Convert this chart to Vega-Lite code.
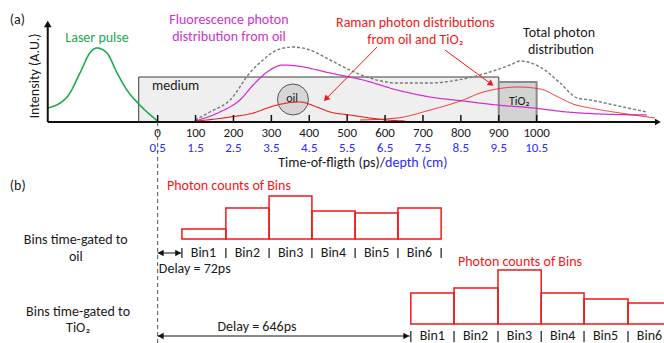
{
  "$schema": "https://vega.github.io/schema/vega-lite/v6.json",
  "width": 664,
  "height": 343,
  "padding": 0,
  "autosize": "none",
  "config": {"view": {"stroke": null}, "font": "Carlito, Lato, sans-serif"},
  "datasets": {
    "boxes": [
      {"name": "medium", "t": -50, "t2": 900, "y": 221, "y2": 266},
      {"name": "TiO2", "t": 900, "t2": 1000, "y": 221, "y2": 261}
    ],
    "oil": [{"t": 357, "y": 243.5}],
    "axes": [
      {"t": -290, "t2": 1322, "y": 221, "y2": 221},
      {"t": -290, "t2": -290, "y": 221, "y2": 318}
    ],
    "ticks": [
      {"t": 0, "y": 221, "y2": 228}, {"t": 100, "y": 221, "y2": 228}, {"t": 200, "y": 221, "y2": 228},
      {"t": 300, "y": 221, "y2": 228}, {"t": 400, "y": 221, "y2": 228}, {"t": 500, "y": 221, "y2": 228},
      {"t": 600, "y": 221, "y2": 228}, {"t": 700, "y": 221, "y2": 228}, {"t": 800, "y": 221, "y2": 228},
      {"t": 900, "y": 221, "y2": 228}, {"t": 1000, "y": 221, "y2": 228}
    ],
    "tickLabels": [
      {"t": 0, "y": 210, "text": "0", "unit": "time"},
      {"t": 100, "y": 210, "text": "100", "unit": "time"},
      {"t": 200, "y": 210, "text": "200", "unit": "time"},
      {"t": 300, "y": 210, "text": "300", "unit": "time"},
      {"t": 400, "y": 210, "text": "400", "unit": "time"},
      {"t": 500, "y": 210, "text": "500", "unit": "time"},
      {"t": 600, "y": 210, "text": "600", "unit": "time"},
      {"t": 700, "y": 210, "text": "700", "unit": "time"},
      {"t": 800, "y": 210, "text": "800", "unit": "time"},
      {"t": 900, "y": 210, "text": "900", "unit": "time"},
      {"t": 1000, "y": 210, "text": "1000", "unit": "time"},
      {"t": 0, "y": 195, "text": "0.5", "unit": "depth"},
      {"t": 100, "y": 195, "text": "1.5", "unit": "depth"},
      {"t": 200, "y": 195, "text": "2.5", "unit": "depth"},
      {"t": 300, "y": 195, "text": "3.5", "unit": "depth"},
      {"t": 400, "y": 195, "text": "4.5", "unit": "depth"},
      {"t": 500, "y": 195, "text": "5.5", "unit": "depth"},
      {"t": 600, "y": 195, "text": "6.5", "unit": "depth"},
      {"t": 700, "y": 195, "text": "7.5", "unit": "depth"},
      {"t": 800, "y": 195, "text": "8.5", "unit": "depth"},
      {"t": 900, "y": 195, "text": "9.5", "unit": "depth"},
      {"t": 1000, "y": 195, "text": "10.5", "unit": "depth"}
    ],
    "curves": [
      {"series": "laser", "t": -290, "y": 235},
      {"series": "laser", "t": -239, "y": 246},
      {"series": "laser", "t": -205, "y": 270},
      {"series": "laser", "t": -179, "y": 290},
      {"series": "laser", "t": -160, "y": 295},
      {"series": "laser", "t": -134, "y": 290},
      {"series": "laser", "t": -107, "y": 270},
      {"series": "laser", "t": -81, "y": 253},
      {"series": "laser", "t": -47, "y": 238},
      {"series": "laser", "t": 0, "y": 222},
      {"series": "total", "t": 99, "y": 223},
      {"series": "total", "t": 138, "y": 231},
      {"series": "total", "t": 191, "y": 243},
      {"series": "total", "t": 243, "y": 270},
      {"series": "total", "t": 278, "y": 283},
      {"series": "total", "t": 315, "y": 293},
      {"series": "total", "t": 357, "y": 296},
      {"series": "total", "t": 402, "y": 293},
      {"series": "total", "t": 455, "y": 283},
      {"series": "total", "t": 507, "y": 273},
      {"series": "total", "t": 560, "y": 265},
      {"series": "total", "t": 632, "y": 260},
      {"series": "total", "t": 719, "y": 260},
      {"series": "total", "t": 806, "y": 264},
      {"series": "total", "t": 877, "y": 271},
      {"series": "total", "t": 930, "y": 278},
      {"series": "total", "t": 956, "y": 282},
      {"series": "total", "t": 1009, "y": 276},
      {"series": "total", "t": 1062, "y": 260},
      {"series": "total", "t": 1107, "y": 245},
      {"series": "total", "t": 1141, "y": 243},
      {"series": "total", "t": 1228, "y": 236},
      {"series": "total", "t": 1291, "y": 231},
      {"series": "fluorescence", "t": 99, "y": 222},
      {"series": "fluorescence", "t": 164, "y": 231},
      {"series": "fluorescence", "t": 217, "y": 243},
      {"series": "fluorescence", "t": 252, "y": 258},
      {"series": "fluorescence", "t": 289, "y": 271},
      {"series": "fluorescence", "t": 331, "y": 278},
      {"series": "fluorescence", "t": 368, "y": 277},
      {"series": "fluorescence", "t": 455, "y": 270},
      {"series": "fluorescence", "t": 542, "y": 263},
      {"series": "fluorescence", "t": 632, "y": 253},
      {"series": "fluorescence", "t": 719, "y": 246},
      {"series": "fluorescence", "t": 806, "y": 242},
      {"series": "fluorescence", "t": 895, "y": 238},
      {"series": "fluorescence", "t": 991, "y": 235},
      {"series": "fluorescence", "t": 1080, "y": 231},
      {"series": "fluorescence", "t": 1167, "y": 229},
      {"series": "fluorescence", "t": 1291, "y": 228},
      {"series": "raman_oil", "t": 78, "y": 221},
      {"series": "raman_oil", "t": 191, "y": 226},
      {"series": "raman_oil", "t": 252, "y": 230},
      {"series": "raman_oil", "t": 297, "y": 236},
      {"series": "raman_oil", "t": 341, "y": 240},
      {"series": "raman_oil", "t": 376, "y": 241},
      {"series": "raman_oil", "t": 420, "y": 236},
      {"series": "raman_oil", "t": 455, "y": 231},
      {"series": "raman_oil", "t": 507, "y": 228},
      {"series": "raman_oil", "t": 560, "y": 225},
      {"series": "raman_oil", "t": 605, "y": 223},
      {"series": "raman_oil", "t": 653, "y": 222},
      {"series": "raman_tio2", "t": 534, "y": 223},
      {"series": "raman_tio2", "t": 632, "y": 225},
      {"series": "raman_tio2", "t": 719, "y": 233},
      {"series": "raman_tio2", "t": 806, "y": 243},
      {"series": "raman_tio2", "t": 851, "y": 250},
      {"series": "raman_tio2", "t": 895, "y": 254},
      {"series": "raman_tio2", "t": 951, "y": 256},
      {"series": "raman_tio2", "t": 1009, "y": 254},
      {"series": "raman_tio2", "t": 1062, "y": 245},
      {"series": "raman_tio2", "t": 1096, "y": 239},
      {"series": "raman_tio2", "t": 1141, "y": 235},
      {"series": "raman_tio2", "t": 1186, "y": 232},
      {"series": "raman_tio2", "t": 1238, "y": 229},
      {"series": "raman_tio2", "t": 1312, "y": 225}
    ],
    "pointers": [
      {"t": 579, "y": 296, "t2": 444, "y2": 244},
      {"t": 758, "y": 293, "t2": 880, "y2": 259}
    ],
    "bins": [
      {"gate": "oil", "bin": "Bin1", "t": 64, "t2": 180, "y": 104, "y2": 114, "ly": 90},
      {"gate": "oil", "bin": "Bin2", "t": 180, "t2": 294, "y": 104, "y2": 135, "ly": 90},
      {"gate": "oil", "bin": "Bin3", "t": 294, "t2": 407, "y": 104, "y2": 147, "ly": 90},
      {"gate": "oil", "bin": "Bin4", "t": 407, "t2": 521, "y": 104, "y2": 132, "ly": 90},
      {"gate": "oil", "bin": "Bin5", "t": 521, "t2": 634, "y": 104, "y2": 130, "ly": 90},
      {"gate": "oil", "bin": "Bin6", "t": 634, "t2": 748, "y": 104, "y2": 135, "ly": 90},
      {"gate": "TiO2", "bin": "Bin1", "t": 668, "t2": 782, "y": 19, "y2": 50, "ly": 7},
      {"gate": "TiO2", "bin": "Bin2", "t": 782, "t2": 898, "y": 19, "y2": 55, "ly": 7},
      {"gate": "TiO2", "bin": "Bin3", "t": 898, "t2": 1012, "y": 19, "y2": 73, "ly": 7},
      {"gate": "TiO2", "bin": "Bin4", "t": 1012, "t2": 1125, "y": 19, "y2": 50, "ly": 7},
      {"gate": "TiO2", "bin": "Bin5", "t": 1125, "t2": 1241, "y": 19, "y2": 44, "ly": 7},
      {"gate": "TiO2", "bin": "Bin6", "t": 1241, "t2": 1354, "y": 19, "y2": 40, "ly": 7}
    ],
    "seps": [
      {"t": 64, "y": 85, "y2": 95}, {"t": 180, "y": 85, "y2": 95}, {"t": 294, "y": 85, "y2": 95},
      {"t": 407, "y": 85, "y2": 95}, {"t": 521, "y": 85, "y2": 95}, {"t": 634, "y": 85, "y2": 95},
      {"t": 748, "y": 85, "y2": 95},
      {"t": 668, "y": 1, "y2": 12}, {"t": 782, "y": 1, "y2": 12}, {"t": 898, "y": 1, "y2": 12},
      {"t": 1012, "y": 1, "y2": 12}, {"t": 1125, "y": 1, "y2": 12}, {"t": 1241, "y": 1, "y2": 12}
    ],
    "delays": [
      {"t": 0, "t2": 62, "y": 90},
      {"t": 0, "t2": 665, "y": 7}
    ],
    "headsLeft": [{"t": 8, "y": 90}, {"t": 8, "y": 7}],
    "headsRight": [{"t": 54, "y": 90}, {"t": 656, "y": 7}, {"t": 1320, "y": 221}],
    "headsUp": [{"t": -290, "y": 319}],
    "labels": [
      {"t": -160, "y": 305, "text": "Laser pulse", "kind": "green"},
      {"t": 188, "y": 323, "text": "Fluorescence photon", "kind": "magenta"},
      {"t": 188, "y": 306, "text": "distribution from oil", "kind": "magenta"},
      {"t": 680, "y": 320, "text": "Raman photon distributions", "kind": "red"},
      {"t": 680, "y": 303, "text": "from oil and TiO₂", "kind": "red"},
      {"t": 1059, "y": 310, "text": "Total photon", "kind": "black"},
      {"t": 1064, "y": 293, "text": "distribution", "kind": "black"},
      {"t": 188, "y": 157, "text": "Photon counts of Bins", "kind": "red"},
      {"t": 956, "y": 81, "text": "Photon counts of Bins", "kind": "red"},
      {"t": -216, "y": 103, "text": "Bins time-gated to", "kind": "black"},
      {"t": -216, "y": 86, "text": "oil", "kind": "black"},
      {"t": -210, "y": 31, "text": "Bins time-gated to", "kind": "black"},
      {"t": -210, "y": 15, "text": "TiO₂", "kind": "black"},
      {"t": 262, "y": 16, "text": "Delay = 646ps", "kind": "black"}
    ],
    "leftLabels": [
      {"t": -390, "y": 323, "text": "(a)"},
      {"t": -390, "y": 157, "text": "(b)"},
      {"t": -15, "y": 257, "text": "medium"},
      {"t": 3, "y": 74, "text": "Delay = 72ps"}
    ],
    "smallLabels": [
      {"t": 355, "y": 245, "text": "oil"},
      {"t": 954, "y": 242, "text": "TiO₂"}
    ],
    "axisTitle": [
      {"t": 600, "y": 180, "black": "Time-of-fligth (ps)/", "blue": "depth (cm)"}
    ],
    "yTitle": [{"t": -324, "y": 267, "text": "Intensity (A.U.)"}],
    "zeroLine": [{"t": 0, "y": 0, "y2": 221}],
    "headOil": [{"t": 444, "y": 244}],
    "headTio2": [{"t": 880, "y": 259}]
  },
  "encoding": {
    "x": {"field": "t", "type": "quantitative", "scale": {"domain": [-416, 1336], "nice": false, "zero": false}, "axis": null},
    "y": {"field": "y", "type": "quantitative", "scale": {"domain": [0, 343], "nice": false, "zero": false}, "axis": null}
  },
  "resolve": {"scale": {"color": "independent", "strokeDash": "independent", "strokeWidth": "independent"}},
  "layer": [
    {
      "data": {"name": "boxes"},
      "transform": [{"filter": "datum.name === 'medium'"}],
      "mark": {"type": "rect", "fill": "#efefef", "stroke": "#3c3c3c", "strokeWidth": 1},
      "encoding": {"x2": {"field": "t2"}, "y2": {"field": "y2"}}
    },
    {
      "data": {"name": "boxes"},
      "transform": [{"filter": "datum.name === 'TiO2'"}],
      "mark": {"type": "rect", "fill": "#d3d3d3", "stroke": "#8a8a8a", "strokeWidth": 2},
      "encoding": {"x2": {"field": "t2"}, "y2": {"field": "y2"}}
    },
    {
      "data": {"name": "oil"},
      "mark": {"type": "point", "shape": "circle", "size": 962, "filled": true, "fill": "#d6d6d6", "stroke": "#555555", "strokeWidth": 1, "opacity": 1}
    },
    {
      "data": {"name": "curves"},
      "mark": {"type": "line", "interpolate": "monotone"},
      "encoding": {
        "color": {"field": "series", "type": "nominal", "legend": null,
          "scale": {"domain": ["laser", "total", "fluorescence", "raman_oil", "raman_tio2"],
                    "range": ["#1aaa50", "#7a7a7a", "#d22fd2", "#f01818", "#f01818"]}},
        "strokeDash": {"field": "series", "type": "nominal", "legend": null,
          "scale": {"domain": ["laser", "total", "fluorescence", "raman_oil", "raman_tio2"],
                    "range": [[1, 0], [3, 2], [1, 0], [1, 0], [1, 0]]}},
        "strokeWidth": {"field": "series", "type": "nominal", "legend": null,
          "scale": {"domain": ["laser", "total", "fluorescence", "raman_oil", "raman_tio2"],
                    "range": [1.6, 0.9, 1.6, 1.6, 1.6]}}
      }
    },
    {
      "data": {"name": "axes"},
      "mark": {"type": "rule", "stroke": "#111111", "strokeWidth": 2},
      "encoding": {"x2": {"field": "t2"}, "y2": {"field": "y2"}}
    },
    {
      "data": {"name": "ticks"},
      "mark": {"type": "rule", "stroke": "#111111", "strokeWidth": 1.5},
      "encoding": {"y2": {"field": "y2"}}
    },
    {
      "data": {"name": "tickLabels"},
      "mark": {"type": "text", "fontSize": 13, "baseline": "middle", "align": "center"},
      "encoding": {
        "text": {"field": "text"},
        "color": {"field": "unit", "type": "nominal", "legend": null,
          "scale": {"domain": ["time", "depth"], "range": ["#1a1a1a", "#2b2bff"]}}
      }
    },
    {
      "data": {"name": "axisTitle"},
      "mark": {"type": "text", "fontSize": 14, "color": "#1a1a1a", "baseline": "middle", "align": "right"},
      "encoding": {"text": {"field": "black"}}
    },
    {
      "data": {"name": "axisTitle"},
      "mark": {"type": "text", "fontSize": 14, "color": "#2b2bff", "baseline": "middle", "align": "left"},
      "encoding": {"text": {"field": "blue"}}
    },
    {
      "data": {"name": "yTitle"},
      "mark": {"type": "text", "fontSize": 14, "color": "#1a1a1a", "baseline": "middle", "align": "center", "angle": 270},
      "encoding": {"text": {"field": "text"}}
    },
    {
      "data": {"name": "headsUp"},
      "mark": {"type": "point", "shape": "triangle-up", "size": 60, "filled": true, "color": "#111111", "opacity": 1}
    },
    {
      "data": {"name": "headsRight"},
      "mark": {"type": "point", "shape": "triangle-right", "size": 45, "filled": true, "color": "#111111", "opacity": 1}
    },
    {
      "data": {"name": "headsLeft"},
      "mark": {"type": "point", "shape": "triangle-left", "size": 45, "filled": true, "color": "#111111", "opacity": 1}
    },
    {
      "data": {"name": "zeroLine"},
      "mark": {"type": "rule", "stroke": "#555555", "strokeWidth": 1, "strokeDash": [4, 3]},
      "encoding": {"y2": {"field": "y2"}}
    },
    {
      "data": {"name": "pointers"},
      "mark": {"type": "rule", "stroke": "#f01818", "strokeWidth": 1},
      "encoding": {"x2": {"field": "t2"}, "y2": {"field": "y2"}}
    },
    {
      "data": {"name": "headOil"},
      "mark": {"type": "point", "shape": "triangle-up", "size": 45, "filled": true, "color": "#f01818", "opacity": 1, "angle": 225}
    },
    {
      "data": {"name": "headTio2"},
      "mark": {"type": "point", "shape": "triangle-up", "size": 45, "filled": true, "color": "#f01818", "opacity": 1, "angle": 126}
    },
    {
      "data": {"name": "bins"},
      "mark": {"type": "rect", "fill": "#ffffff", "fillOpacity": 0, "stroke": "#f01818", "strokeWidth": 1.5},
      "encoding": {"x2": {"field": "t2"}, "y2": {"field": "y2"}}
    },
    {
      "data": {"name": "bins"},
      "mark": {"type": "text", "fontSize": 14, "color": "#1a1a1a", "baseline": "middle", "align": "center", "dx": 21.5},
      "encoding": {"y": {"field": "ly"}, "text": {"field": "bin"}}
    },
    {
      "data": {"name": "seps"},
      "mark": {"type": "rule", "stroke": "#1a1a1a", "strokeWidth": 1.2},
      "encoding": {"y2": {"field": "y2"}}
    },
    {
      "data": {"name": "delays"},
      "mark": {"type": "rule", "stroke": "#111111", "strokeWidth": 1},
      "encoding": {"x2": {"field": "t2"}}
    },
    {
      "data": {"name": "labels"},
      "mark": {"type": "text", "fontSize": 14, "baseline": "middle", "align": "center"},
      "encoding": {
        "text": {"field": "text"},
        "color": {"field": "kind", "type": "nominal", "legend": null,
          "scale": {"domain": ["green", "magenta", "red", "black"], "range": ["#1aaa50", "#cc33cc", "#f01818", "#1a1a1a"]}}
      }
    },
    {
      "data": {"name": "leftLabels"},
      "mark": {"type": "text", "fontSize": 14, "color": "#1a1a1a", "baseline": "middle", "align": "left"},
      "encoding": {"text": {"field": "text"}}
    },
    {
      "data": {"name": "smallLabels"},
      "mark": {"type": "text", "fontSize": 12, "color": "#1a1a1a", "baseline": "middle", "align": "center"},
      "encoding": {"text": {"field": "text"}}
    }
  ]
}
